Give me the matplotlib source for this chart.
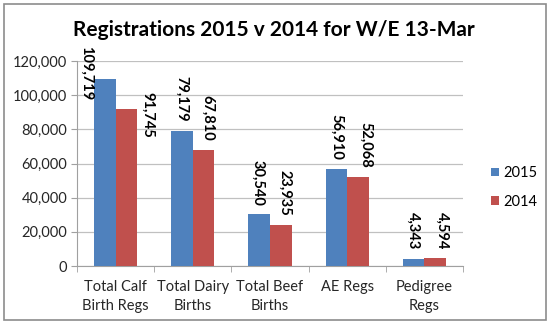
import matplotlib
matplotlib.use("Agg")
import matplotlib.pyplot as plt
from matplotlib.patches import Rectangle
import numpy as np

categories = ["Total Calf\nBirth Regs", "Total Dairy\nBirths", "Total Beef\nBirths", "AE Regs", "Pedigree\nRegs"]
series_names = ["2015", "2014"]
values_2015 = [109719, 79179, 30540, 56910, 4343]
values_2014 = [91745, 67810, 23935, 52068, 4594]
y_ticks = [0, 20000, 40000, 60000, 80000, 100000, 120000]

# label offsets in pixels (dx, dy gap above bar top), mimicking the reference placement
off_2015 = [(-19, -22), (0, 9), (-1, 8), (0, 9), (0, 9)]
off_2014 = [(21, -28), (4, 9), (4, 9), (8, 9), (7, 9)]

plt.rcParams['font.family'] = ['Lato', 'DejaVu Sans']

W, H = 551, 330
fig = plt.figure(figsize=(W / 100, H / 100), dpi=100)
fig.patches.append(Rectangle((4 / W, 1 - 320 / H), 542 / W, 316 / H, transform=fig.transFigure,
                             fill=False, edgecolor="#8c8c8c", linewidth=1.2))

ax = fig.add_axes([77 / W, 1 - 266 / H, 386 / W, 205 / H])
x = np.arange(len(categories))
bw = 0.28
c15, c14 = "#4F81BD", "#C0504D"
b1 = ax.bar(x - bw / 2, values_2015, bw, color=c15, label=series_names[0], zorder=3)
b2 = ax.bar(x + bw / 2, values_2014, bw, color=c14, label=series_names[1], zorder=3)

def px2pt(v):
    return v * 72 / 100

for bars, vals, offs in ((b1, values_2015, off_2015), (b2, values_2014, off_2014)):
    for rect, v, (dx, dy) in zip(bars, vals, offs):
        ax.annotate(f"{v:,}", (rect.get_x() + rect.get_width() / 2, v),
                    xytext=(px2pt(dx), px2pt(dy)), textcoords="offset points",
                    rotation=270, ha="center", va="bottom", fontsize=10.5,
                    fontweight="bold", color="#000000", zorder=4)

ax.set_xlim(-0.5, len(categories) - 0.5)
ax.set_ylim(0, 120000)
ax.set_yticks(y_ticks)
ax.set_yticklabels([f"{t:,}" for t in y_ticks], fontsize=10.5, color="#262626")
ax.yaxis.grid(True, color="#c0c0c0", linewidth=0.9, zorder=0)
ax.set_axisbelow(True)

ax.set_xticks(x)
ax.set_xticklabels(categories, fontsize=10.5, color="#262626", linespacing=1.45)
ax.set_xticks(np.arange(len(categories) + 1) - 0.5, minor=True)
ax.tick_params(axis="x", which="major", length=0, pad=10)
ax.tick_params(axis="x", which="minor", length=4, color="#a0a0a0", direction="out")
ax.tick_params(axis="y", length=4, color="#a0a0a0", pad=3)

for s in ["top", "right"]:
    ax.spines[s].set_visible(False)
ax.spines["left"].set_color("#a0a0a0")
ax.spines["bottom"].set_color("#a0a0a0")

fig.text(274 / W, 1 - 30 / H, "Registrations 2015 v 2014 for W/E 13-Mar", ha="center", va="center",
         fontsize=15, fontweight="bold", color="#000000")

leg = fig.legend(handles=[b1, b2], labels=series_names, loc="upper left",
                 bbox_to_anchor=(478 / W, 1 - 153 / H), frameon=False, fontsize=10.5,
                 handlelength=0.55, handleheight=0.55, handletextpad=0.3, labelspacing=1.0)

fig.savefig("out.png", dpi=100)
